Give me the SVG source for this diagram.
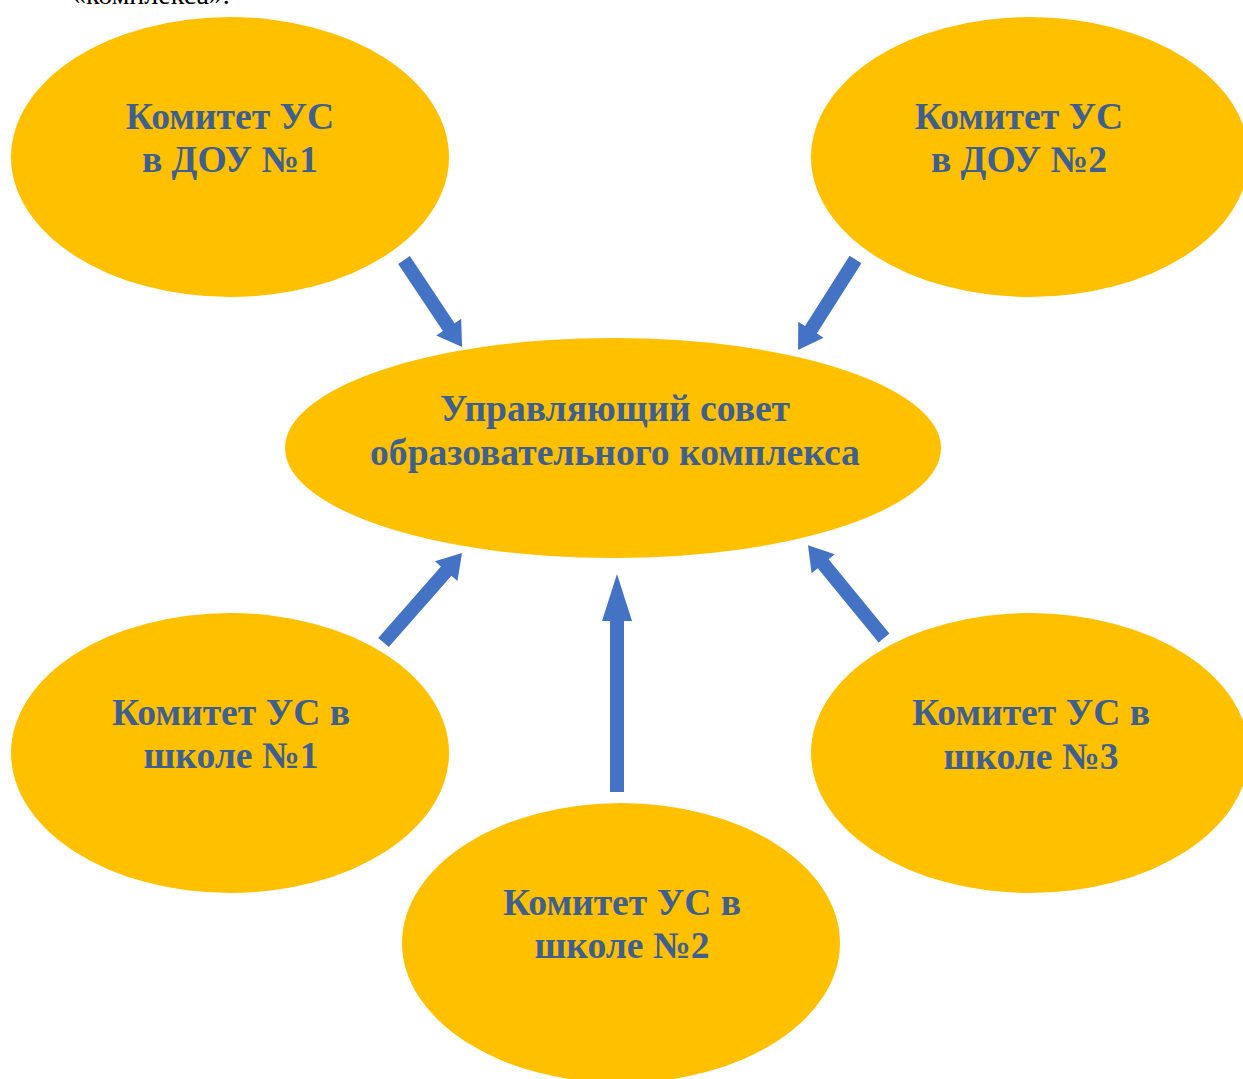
<svg xmlns="http://www.w3.org/2000/svg" width="1243" height="1079" viewBox="0 0 1243 1079">
<style>
.node{fill:#FFC000}
.lbl{font-family:"Liberation Serif","Times New Roman",serif;font-weight:bold;font-size:37.6px;fill:#3F5F8E;text-anchor:middle}
.arr{fill:#4472C4}
</style>
<rect width="1243" height="1079" fill="#FFFFFF"/>
<text x="72" y="4" font-family="Liberation Serif, serif" font-size="28" fill="#000">«комплекса».</text>
<g id="node-center">
<ellipse class="node" cx="613" cy="448" rx="328" ry="110"/>
<text class="lbl" x="615" y="421">Управляющий совет</text>
<text class="lbl" x="615" y="465">образовательного комплекса</text>
</g>
<g id="node-dou1">
<ellipse class="node" cx="230" cy="157" rx="219" ry="140"/>
<text class="lbl" x="230" y="129">Комитет УС</text>
<text class="lbl" x="230" y="172">в ДОУ №1</text>
</g>
<g id="node-dou2">
<ellipse class="node" cx="1030" cy="157" rx="219" ry="140"/>
<text class="lbl" x="1019" y="129">Комитет УС</text>
<text class="lbl" x="1019" y="172">в ДОУ №2</text>
</g>
<g id="node-school1">
<ellipse class="node" cx="230" cy="753" rx="219" ry="140"/>
<text class="lbl" x="231" y="725">Комитет УС в</text>
<text class="lbl" x="231" y="768">школе №1</text>
</g>
<g id="node-school2">
<ellipse class="node" cx="621" cy="943" rx="219" ry="140"/>
<text class="lbl" x="622" y="915">Комитет УС в</text>
<text class="lbl" x="622" y="958">школе №2</text>
</g>
<g id="node-school3">
<ellipse class="node" cx="1030" cy="753" rx="219" ry="140"/>
<text class="lbl" x="1031" y="725">Комитет УС в</text>
<text class="lbl" x="1031" y="769">школе №3</text>
</g>
<g id="connectors">
<polygon class="arr" transform="translate(404,260) rotate(56.3)" points="0,-7 80.6,-7 80.6,-15 104.6,0 80.6,15 80.6,7 0,7"/>
<polygon class="arr" transform="translate(855.5,259.5) rotate(122.4)" points="0,-7 83.2,-7 83.2,-15 107.2,0 83.2,15 83.2,7 0,7"/>
<polygon class="arr" transform="translate(383.5,642.5) rotate(-48.7)" points="0,-7 95,-7 95,-15 119,0 95,15 95,7 0,7"/>
<polygon class="arr" transform="translate(884,638) rotate(230.7)" points="0,-7 96,-7 96,-15 120,0 96,15 96,7 0,7"/>
<polygon class="arr" points="610,792 610,621 602,621 617,574 632,621 624,621 624,792"/>
</g>
</svg>
